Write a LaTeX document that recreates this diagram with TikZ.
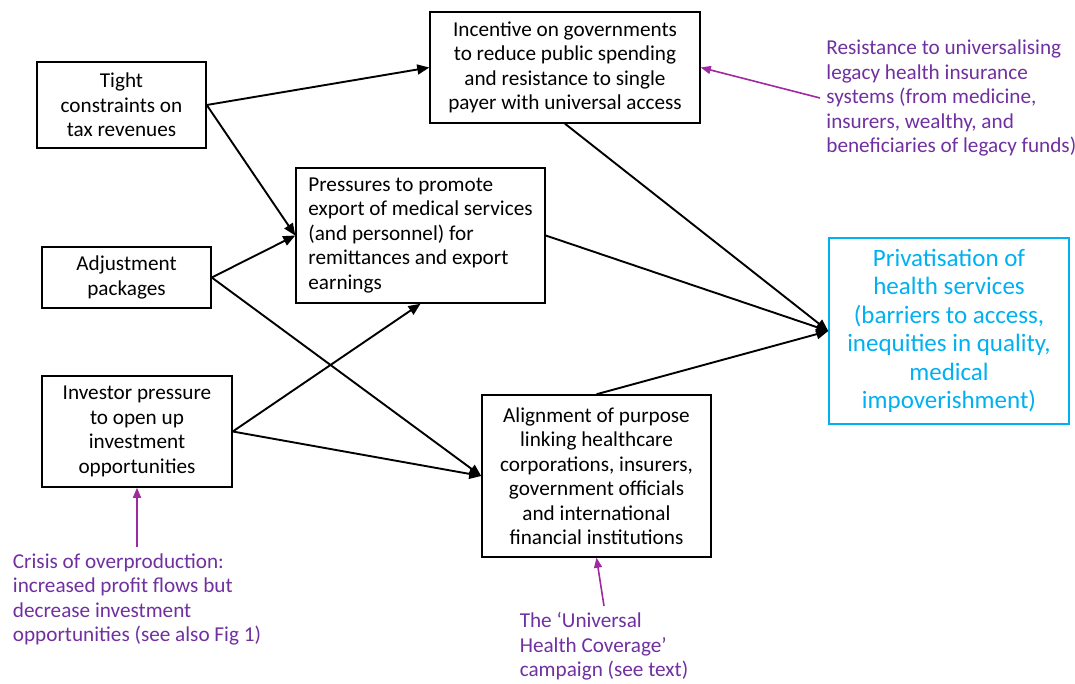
\documentclass[tikz,border=0pt]{standalone}
\usepackage{fontspec}
\setmainfont{Carlito}
\usetikzlibrary{arrows.meta}
\definecolor{notepurple}{RGB}{112,48,160}
\definecolor{notearrow}{RGB}{160,40,160}
\definecolor{privblue}{RGB}{0,176,240}

\begin{document}
\begin{tikzpicture}[x=0.5pt, y=-0.5pt,
    box/.style={draw, line width=0.75pt, align=center, inner sep=0pt,
        font=\fontsize{10.6}{12.25}\selectfont},
    note/.style={text=notepurple, align=left, inner sep=3pt,
        font=\fontsize{10.6}{12.25}\selectfont},
    link/.style={-{Triangle[length=6pt,width=5pt]}, line width=0.95pt},
    notelink/.style={-{Triangle[length=5pt,width=4pt]}, notearrow, line width=0.8pt}]

    % Frame of the page
    \useasboundingbox (0,0) rectangle (1075,684);

    % Causes (left column)
    \node[box, minimum width=84.5pt, minimum height=43pt] (tight) at (121.5,105)
        {Tight\\constraints on\\tax revenues};
    \node[box, minimum width=84.5pt, minimum height=30.5pt] (adjust) at (126.5,277.5)
        {Adjustment\\packages};
    \node[box, minimum width=95pt, minimum height=55.5pt] (investor) at (137,431.5)
        {Investor pressure\\to open up\\investment\\opportunities};

    % Mechanisms (middle)
    \node[box, minimum width=135pt, minimum height=55.5pt] (incentive) at (565,67.5)
        {Incentive on governments\\to reduce public spending\\and resistance to single\\payer with universal access};
    \node[box, align=left, minimum width=124.5pt, minimum height=67.5pt] (pressures) at (420.5,235.5)
        {Pressures to promote\\export of medical services\\(and personnel) for\\remittances and export\\earnings};
    \node[box, minimum width=114.5pt, minimum height=81pt] (align) at (596.5,476)
        {Alignment of purpose\\linking healthcare\\corporations, insurers,\\government officials\\and international\\financial institutions};

    % Outcome
    \node[box, draw=privblue, text=privblue, font=\fontsize{12.5}{14.25}\selectfont,
        minimum width=120pt, minimum height=93pt] (priv) at (949,331)
        {Privatisation of\\health services\\(barriers to access,\\inequities in quality,\\medical\\impoverishment)};

    % Context notes (purple)
    \node[note, anchor=west] (resist) at (820,98)
        {Resistance to universalising\\legacy health insurance\\systems (from medicine,\\insurers, wealthy, and\\beneficiaries of legacy funds)};
    \node[note, anchor=north] (crisis) at (137,547)
        {Crisis of overproduction:\\increased profit flows but\\decrease investment\\opportunities (see also Fig 1)};
    \node[note, anchor=north] (uhc) at (604,606)
        {The ‘Universal\\Health Coverage’\\campaign (see text)};

    % Causal links
    \draw[link] (tight.east) -- (incentive.west);
    \draw[link] (tight.east) -- (pressures.west);
    \draw[link] (adjust.east) -- (pressures.west);
    \draw[link] (adjust.east) -- (align.west);
    \draw[link] (investor.east) -- (pressures.south);
    \draw[link] (investor.east) -- (align.west);
    \draw[link] (incentive.south) -- (priv.west);
    \draw[link] (pressures.east) -- (priv.west);
    \draw[link] (align.north) -- (priv.west);

    % Note links
    \draw[notelink] (resist.west) -- (incentive.east);
    \draw[notelink] (crisis.north) -- (investor.south);
    \draw[notelink] (uhc.north) -- (align.south);
\end{tikzpicture}
\end{document}
